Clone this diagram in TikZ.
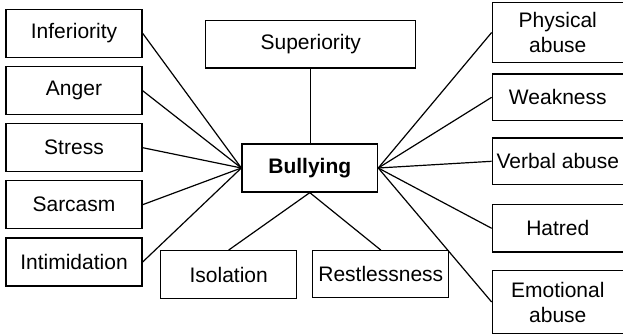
\documentclass[tikz,border=0pt]{standalone}
\usepackage{fontspec}
\setmainfont{Liberation Sans}
\usepackage{tikz}
\usetikzlibrary{shapes,arrows}

\begin{document}
\begin{tikzpicture}[
  box/.style={draw, line width=0.65pt, inner sep=0pt, align=center,
    minimum width=68pt, minimum height=24pt,
    font=\fontsize{10.5}{12.5}\selectfont},
  link/.style={line width=0.6pt}
]
\useasboundingbox (0pt,0pt) rectangle (311.5pt,-168pt);

% to write centre and top entities
\node [box, minimum width=67.8pt] (bull) at (154.9pt,-84pt) {\textbf{Bullying}};
\node [box, minimum width=105pt, minimum height=23.7pt] (sup) at (155.4pt,-22.2pt) {Superiority};

%Left side:
\node [box] (inf) at (37pt,-16.65pt) {Inferiority};
\node [box] (ang) at (37pt,-45.35pt) {Anger};
\node [box] (str) at (37pt,-73.85pt) {Stress};
\node [box] (sar) at (37pt,-102.35pt) {Sarcasm};
\node [box] (inti) at (37pt,-131pt) {Intimidation};

%Bottom side:
\node [box, minimum height=23.8pt] (iso) at (114.35pt,-137.25pt) {Isolation};
\node [box, minimum height=23.5pt] (rest) at (190.4pt,-137.1pt) {Restlessness};

%Right side:
\node [box, minimum width=65.5pt, minimum height=29.8pt] (phy) at (278.9pt,-16.25pt) {Physical\\abuse};
\node [box, minimum width=65.5pt, minimum height=23.3pt] (weak) at (278.9pt,-48.65pt) {Weakness};
\node [box, minimum width=65.5pt, minimum height=23.3pt] (verb) at (278.9pt,-80.65pt) {Verbal abuse};
\node [box, minimum width=65.5pt, minimum height=23.7pt] (hat) at (278.9pt,-114.15pt) {Hatred};
\node [box, minimum width=65.5pt, minimum height=31.3pt] (emo) at (278.9pt,-151pt) {Emotional\\abuse};

% to draw lines into Bullying
\draw [link] (sup.south) -- (sup.south |- bull.north);
\foreach \n in {inf,ang,str,sar,inti}
  \draw [link] (\n.east) -- (bull.west);
\foreach \n in {phy,weak,verb,hat,emo}
  \draw [link] (\n.west) -- (bull.east);
\draw [link] (iso.north) -- (bull.south);
\draw [link] (rest.north) -- (bull.south);
\end{tikzpicture}
\end{document}
